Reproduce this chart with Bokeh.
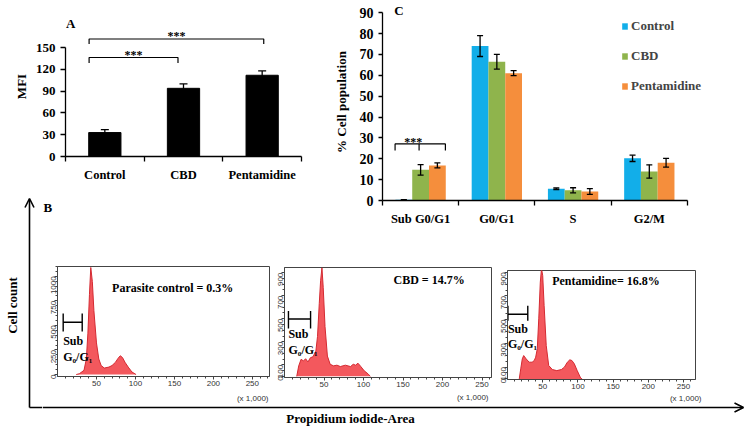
import math
from bokeh.plotting import figure
from bokeh.models import (ColumnDataSource, FixedTicker, Whisker, TeeHead, Legend, LegendItem,
                          Arrow, OpenHead, GridBox, Range1d)
from bokeh.core.properties import value
from bokeh.embed import file_html
from bokeh.resources import INLINE

SERIF = "Liberation Serif"
SANS = "Liberation Sans"

# ---------------- Panel A data ----------------
a_groups = ["Control", "CBD", "Pentamidine"]
a_mfi = [33, 94, 112]
a_mfi_err = [4, 6, 6]
a_yticks = [0, 30, 60, 90, 120, 150]
a_br_start = [0.3, 0.3]
a_br_end = [1.43, 2.52]
a_br_level = [136.5, 162.0]
a_br_drop = [7.5, 7.0]
a_br_label = ["***", "***"]

# ---------------- Panel C data ----------------
c_phases = ["Sub G0/G1", "G0/G1", "S", "G2/M"]
c_series = ["Control", "CBD", "Pentamidine"]
c_control = [0.3, 74.0, 5.6, 20.2]
c_control_err = [0.1, 5.0, 0.4, 1.5]
c_cbd = [14.7, 66.5, 4.9, 13.9]
c_cbd_err = [2.5, 3.5, 1.2, 3.2]
c_pent = [16.8, 61.0, 4.3, 18.1]
c_pent_err = [1.2, 1.2, 1.4, 2.1]
c_yticks = list(range(0, 100, 10))
c_colors = ["#12aee9", "#8fb44c", "#f58e3c"]
c_br_start, c_br_mid, c_br_end = 0.165, 0.48, 0.825
c_br_level, c_br_drop = 27.1, 3.2

# ---------------- Panel B data (flow cytometry histograms) ----------------
h_xticks = [50, 100, 150, 200, 250]
h1_yticks = [0, 250, 500, 750, 1000]
h23_yticks = [0, 100, 300, 500, 700, 900]

h1_x = [24, 28, 34, 37, 39, 41, 42.7, 44.7, 46.7, 50, 53, 56, 60, 66, 70, 74.4, 77.6,
        80.5, 83.3, 86.6, 90.7, 95.5, 100.8]
h1_y = [0, 8, 43, 158, 421, 816, 1090, 947, 651, 322, 158, 92, 66, 76, 92, 125, 164,
        191, 174, 125, 76, 26, 0]

h2_x = [15.5, 18, 21, 24, 26.7, 29.7, 32.8, 36, 39.7, 41.8, 44, 45.7, 47.4, 49, 51.3,
        54.3, 57.8, 62, 66.4, 70.7, 77, 83.6, 87, 90, 93, 96.6, 100.9, 106, 108.6]
h2_y = [0, 91, 148, 134, 153, 125, 162, 170, 219, 347, 631, 830, 943, 773, 432,
        176, 105, 91, 97, 85, 97, 85, 105, 97, 114, 85, 48, 20, 0]

h3_x = [16.7, 18.8, 21, 23, 26.5, 30.8, 35, 38, 40, 42.3, 44.4, 46.6, 48.3, 50, 52,
        55, 58.5, 63.7, 70, 76.5, 80.8, 85, 88.5, 91.5, 94.9, 99, 104, 106]
h3_y = [0, 85, 169, 197, 169, 141, 141, 155, 183, 254, 507, 817, 930, 873, 620,
        282, 113, 79, 70, 79, 99, 141, 161, 155, 127, 70, 6, 0]

h_titles = ["Parasite control = 0.3%", "CBD = 14.7%", "Pentamidine= 16.8%"]
h_scale_label = "(x 1,000)"


def new_fig(w, h, xr, yr, **kw):
    p = figure(width=w, height=h, x_range=Range1d(*xr), y_range=Range1d(*yr),
               output_backend="svg", toolbar_location=None, tools="", **kw)
    p.grid.visible = False
    p.outline_line_color = None
    return p


def serif_axis(ax, size="13px"):
    ax.major_label_text_font = SERIF
    ax.major_label_text_font_style = "bold"
    ax.major_label_text_font_size = size
    ax.major_label_text_color = "black"
    ax.axis_label_text_font = SERIF
    ax.axis_label_text_font_style = "bold"
    ax.axis_label_text_font_size = "13px"
    ax.axis_label_text_color = "black"
    ax.axis_line_color = "black"
    ax.axis_line_width = 1.3
    ax.major_tick_line_color = "black"
    ax.major_tick_line_width = 1.3
    ax.minor_tick_line_color = "black"
    ax.minor_tick_line_width = 1.3


def serif_text(p, xs, ys, texts, size="13px", align="left", baseline="middle", angle=0.0):
    p.text(x=xs, y=ys, text=texts, angle=angle, text_font=value(SERIF),
           text_font_style="bold", text_font_size=size, text_align=align,
           text_baseline=baseline, text_color="black")


# ================= Panel A =================
pA = new_fig(330, 197, (0, 3), (0, 193), min_border_left=65, min_border_right=29,
             min_border_top=16, min_border_bottom=41)
a_x = [i + 0.5 for i in range(len(a_groups))]
pA.vbar(x=a_x, top=a_mfi, width=0.41, color="black")
srcA = ColumnDataSource(dict(x=a_x,
                             lo=[m - e for m, e in zip(a_mfi, a_mfi_err)],
                             hi=[m + e for m, e in zip(a_mfi, a_mfi_err)]))
pA.add_layout(Whisker(source=srcA, base="x", lower="lo", upper="hi", line_color="black",
                      line_width=1.3, level="annotation",
                      upper_head=TeeHead(size=8, line_width=1.3, line_color="black"),
                      lower_head=TeeHead(size=8, line_width=1.3, line_color="black")))
pA.multi_line(xs=[[s, s, e, e] for s, e in zip(a_br_start, a_br_end)],
              ys=[[l - d, l, l, l - d] for l, d in zip(a_br_level, a_br_drop)],
              line_color="black", line_width=1.2)
serif_text(pA, [(s + e) / 2 for s, e in zip(a_br_start, a_br_end)],
           [l + 3.5 for l in a_br_level], a_br_label, size="12px", align="center",
           baseline="alphabetic")
serif_text(pA, [0.005], [183.3], ["A"])
serif_axis(pA.xaxis[0], "12.5px")
pA.xaxis.ticker = FixedTicker(ticks=a_x, minor_ticks=[0, 1, 2, 3])
pA.xaxis.major_label_overrides = {x: g for x, g in zip(a_x, a_groups)}
pA.xaxis.major_tick_out = 0
pA.xaxis.major_tick_in = 0
pA.xaxis.minor_tick_out = 5
pA.xaxis.minor_tick_in = 0
pA.xaxis.major_label_standoff = 6
serif_axis(pA.yaxis[0], "13px")
pA.yaxis.ticker = FixedTicker(ticks=a_yticks, minor_ticks=[])
pA.yaxis.bounds = (0, 150)
pA.yaxis.major_tick_out = 5
pA.yaxis.major_tick_in = 0
pA.yaxis.major_label_standoff = 5
pA.yaxis.axis_label = "MFI"
pA.yaxis.axis_label_standoff = 4

# ================= Panel C =================
pC = new_fig(420, 228, (0, 4.67), (0, 94.4), min_border_left=50, min_border_right=12,
             min_border_top=3, min_border_bottom=27)
offsets = [-0.22, 0.0, 0.22]
vals = [c_control, c_cbd, c_pent]
errs = [c_control_err, c_cbd_err, c_pent_err]
items = []
for name, col, off, v, e in zip(c_series, c_colors, offsets, vals, errs):
    xs = [i + 0.5 + off for i in range(len(c_phases))]
    src = ColumnDataSource(dict(x=xs, top=v,
                                lo=[a - b for a, b in zip(v, e)],
                                hi=[a + b for a, b in zip(v, e)]))
    r = pC.vbar(x="x", top="top", width=0.22, source=src, fill_color=col, line_color=None)
    pC.add_layout(Whisker(source=src, base="x", lower="lo", upper="hi", line_color="black",
                          line_width=1.3, level="annotation",
                          upper_head=TeeHead(size=6, line_width=1.3, line_color="black"),
                          lower_head=TeeHead(size=6, line_width=1.3, line_color="black")))
    items.append(LegendItem(label=name, renderers=[r]))
pC.multi_line(xs=[[c_br_start, c_br_start, c_br_end, c_br_end], [c_br_mid, c_br_mid]],
              ys=[[c_br_level - c_br_drop, c_br_level, c_br_level, c_br_level - c_br_drop],
                  [c_br_level, c_br_level - c_br_drop]],
              line_color="black", line_width=1.2)
serif_text(pC, [(c_br_start + c_br_end) / 2 - 0.09], [c_br_level + 1.0], ["***"],
           size="12px", align="center", baseline="alphabetic")
serif_text(pC, [0.153], [91.0], ["C"])
legend = Legend(items=items, location=(239, 104), orientation="vertical",
                label_text_font=SERIF, label_text_font_style="bold",
                label_text_font_size="13px", label_height=20, glyph_height=8,
                glyph_width=7, spacing=10, padding=0, margin=0, label_standoff=3,
                border_line_color=None, background_fill_alpha=0)
pC.add_layout(legend)
serif_axis(pC.xaxis[0], "12.5px")
c_x = [i + 0.5 for i in range(len(c_phases))]
pC.xaxis.ticker = FixedTicker(ticks=c_x, minor_ticks=[0, 1, 2, 3, 4])
pC.xaxis.major_label_overrides = {x: g for x, g in zip(c_x, c_phases)}
pC.xaxis.bounds = (0, 4)
pC.xaxis.major_tick_out = 0
pC.xaxis.major_tick_in = 0
pC.xaxis.minor_tick_out = 5
pC.xaxis.minor_tick_in = 0
pC.xaxis.major_label_standoff = 6
serif_axis(pC.yaxis[0], "14px")
pC.yaxis.ticker = FixedTicker(ticks=c_yticks, minor_ticks=[])
pC.yaxis.bounds = (0, 90)
pC.yaxis.major_tick_out = 4
pC.yaxis.major_tick_in = 0
pC.yaxis.major_label_standoff = 5
pC.yaxis.axis_label = "% Cell population"
pC.yaxis.axis_label_standoff = 8


# ================= Panel B histograms =================
def make_hist(w, h, bl, br, bt, bb, xr, yr, yticks, hx, hy, title, tpos, sub):
    p = new_fig(w, h, xr, yr, min_border_left=bl, min_border_right=br,
                min_border_top=bt, min_border_bottom=bb)
    p.outline_line_color = "#444444"
    p.outline_line_width = 1
    p.varea(x=hx, y1=[0] * len(hx), y2=hy, fill_color="#f24a4f", fill_alpha=0.92)
    p.line(x=hx, y=hy, line_color="#d42a32", line_width=1)
    gx0, gx1, gy, gylo, gyhi, suby, gy2 = sub
    p.multi_line(xs=[[gx0, gx1], [gx0, gx0], [gx1, gx1]],
                 ys=[[gy, gy], [gylo, gyhi], [gylo, gyhi]],
                 line_color="black", line_width=1.4)
    serif_text(p, [gx0, gx0], [suby, gy2], ["Sub", "G\u2080/G\u2081"], size="12px")
    serif_text(p, [tpos[0]], [tpos[1]], [title], size="12px")
    for ax in (p.xaxis[0], p.yaxis[0]):
        ax.major_label_text_font = SANS
        ax.major_label_text_font_size = "8px"
        ax.major_label_text_color = "#333333"
        ax.axis_line_color = "#444444"
        ax.major_tick_line_color = "#444444"
        ax.minor_tick_line_color = "#444444"
        ax.major_tick_in = 0
        ax.minor_tick_in = 0
        ax.major_tick_out = 3
        ax.minor_tick_out = 2
        ax.major_label_standoff = 1
    p.xaxis.ticker = FixedTicker(ticks=h_xticks, minor_ticks=list(range(10, 271, 10)))
    p.yaxis.ticker = FixedTicker(ticks=yticks,
                                 minor_ticks=list(range(0, int(yr[1]) + 1, 50)))
    p.yaxis.major_label_orientation = math.pi / 2
    return p


pH1 = make_hist(228, 129, 15, 1, 2, 17, (0, 272), (-20, 1100), h1_yticks, h1_x, h1_y,
                h_titles[0], (70, 886), (7.3, 31.7, 533, 438, 621, 346, 176))
pH2 = make_hist(223, 165, 14, 2, 39, 16, (0, 262), (-10, 945), h23_yticks, h2_x, h2_y,
                h_titles[1], (138, 840), (5, 33, 498, 415, 568, 372, 233))
pH3 = make_hist(257, 165, 14, 55, 42, 14, (0, 267), (-5, 915), h23_yticks, h3_x, h3_y,
                h_titles[2], (63.5, 830), (0.6, 28.8, 546, 490, 617, 419, 293))

# panel letter B
pB = new_fig(228, 67, (0, 228), (0, 67), x_axis_type=None, y_axis_type=None, min_border=0)
serif_text(pB, [1], [57], ["B"])

# left strip: y-arrow "Cell count"
pL = new_fig(42, 234, (0, 42), (0, 234), x_axis_type=None, y_axis_type=None, min_border=0)
pL.add_layout(Arrow(end=OpenHead(size=9, line_width=1.6), x_start=29, y_start=24,
                    x_end=29, y_end=233, line_width=1.6, line_color="black"))
pL.segment(x0=[29], y0=[24], x1=[42], y1=[24], line_width=1.6, line_color="black")
serif_text(pL, [12], [126], ["Cell count"], align="center", angle=math.pi / 2)

# bottom strip: x-arrow "Propidium iodide-Area" and histogram scale notes
pBot = new_fig(708, 38, (0, 708), (0, 38), x_axis_type=None, y_axis_type=None,
               min_border=0)
pBot.add_layout(Arrow(end=OpenHead(size=9, line_width=1.6), x_start=0, y_start=24,
                      x_end=701, y_end=24, line_width=1.6, line_color="black"))
serif_text(pBot, [308], [13], ["Propidium iodide-Area"], align="center")
pBot.text(x=[226, 446, 659], y=[33, 34, 33], text=[h_scale_label] * 3,
          text_font=value(SANS), text_font_size="8px", text_color="#333333",
          text_align="right", text_baseline="middle")

grid = GridBox(
    children=[(pA, 0, 0, 2, 6), (pC, 1, 6, 3, 3), (pL, 2, 1, 8, 1), (pB, 3, 2, 3, 3),
              (pH1, 6, 3, 1, 2), (pH2, 4, 5, 4, 2), (pH3, 5, 7, 4, 1), (pBot, 9, 4, 1, 6)],
    rows=["0px", "197px", "0px", "31px", "0px", "36px", "129px", "0px", "0px", "38px"],
    cols=["0px", "42px", "0px", "0px", "228px", "60px", "163px", "257px", "0px", "0px"],
    spacing=0)

open("out.html", "w").write(file_html(grid, INLINE))
